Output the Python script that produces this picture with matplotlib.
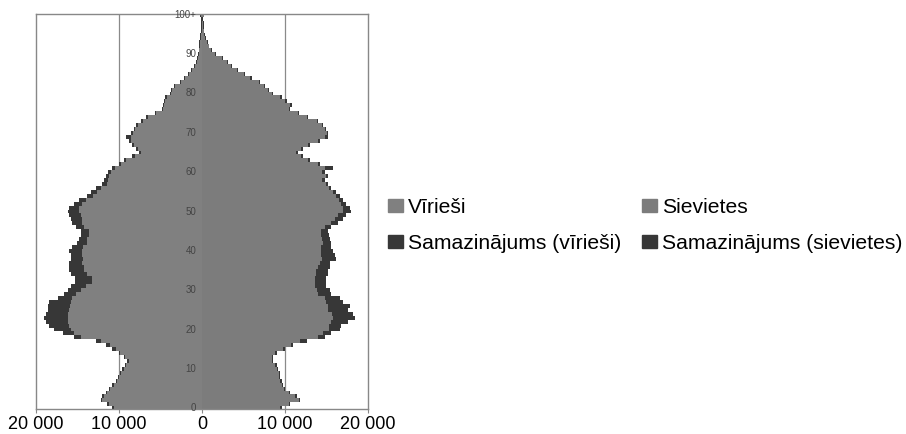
import matplotlib.pyplot as plt
from matplotlib.patches import Patch
import numpy as np

plt.rcParams['font.family'] = ['Liberation Sans', 'DejaVu Sans']

ages = list(range(101))
age_labels = ['0', '10', '20', '30', '40', '50', '60', '70', '80', '90', '100+']

# outer edge (population + decrease)
men_total = [10800, 11400, 12200, 12000, 11600, 11200, 10800, 10400, 10100, 9900,
             9600, 9300, 9000, 9400, 10000, 10800, 11600, 12800, 15400, 16800,
             17800, 18400, 18800, 19000, 18800, 18600, 18500, 18400, 17400, 16600,
             16200, 15800, 15300, 15300, 15800, 16000, 16000, 16000, 15800, 15800,
             16000, 15600, 15000, 14800, 14600, 14600, 15200, 15600, 15800, 16000,
             16200, 16000, 15400, 14800, 13800, 13400, 12800, 12000, 11800, 11600,
             11300, 10800, 10000, 9400, 8400, 7600, 8000, 8400, 8800, 9200,
             8500, 8200, 7900, 7300, 6700, 5700, 4800, 4700, 4600, 4400,
             3900, 3700, 3400, 2700, 2200, 1700, 1300, 900, 700, 600,
             500, 400, 350, 300, 250, 200, 150, 120, 100, 100,
             250]
men_decrease = [150] * 15 + [
    400, 500, 600, 800, 1400,
    2000, 2400, 2600, 2800, 2700, 2600, 2600, 2600, 1700, 1400,
    1600, 1800, 2000, 2000, 1900, 1800, 1800, 1600, 1500, 1400,
    1500, 1300, 1200, 1000, 1000, 1000, 1000, 1200, 1300, 1400,
    1400, 1200, 1000, 800, 700, 700, 600, 500, 500, 400,
    400, 350, 300, 300, 300, 250, 250, 250, 250, 700,
    150, 150, 150, 150, 150, 150, 150, 150, 150, 150,
    150, 150, 150, 150, 150, 100, 100, 100, 100, 100,
    100, 100, 100, 100, 100, 100, 100, 100, 100, 100,
    100]

women_total = [9600, 10600, 11800, 11400, 10600, 10000, 9800, 9600, 9400, 9400,
               9200, 9000, 8600, 8600, 9000, 10000, 11000, 12600, 14800, 15600,
               16600, 16800, 17600, 18400, 18200, 17600, 17800, 17000, 16600, 15600,
               15400, 15000, 15000, 15000, 15200, 15200, 15400, 15400, 16200, 16000,
               15800, 15600, 15600, 15400, 15300, 15200, 15600, 16400, 17000, 17400,
               18000, 17800, 17400, 17000, 16600, 16200, 15600, 15200, 14800, 15200,
               14800, 15800, 14200, 13000, 12200, 11600, 12200, 13000, 14200, 15200,
               15200, 15000, 14600, 14000, 12800, 11700, 10600, 10800, 10200, 9600,
               8600, 8100, 7600, 7000, 6000, 5200, 4300, 3600, 3100, 2500,
               1700, 1200, 900, 700, 500, 400, 300, 250, 200, 150,
               300]
women_decrease = [150] * 15 + [
    200, 300, 800, 800, 1000,
    1300, 1500, 2000, 2600, 2500, 2400, 2600, 2000, 1800, 1600,
    1500, 1400, 1400, 1400, 1400, 1400, 1400, 1200, 1700, 1600,
    1400, 1200, 1000, 900, 900, 800, 800, 800, 1000, 1000,
    1000, 800, 600, 500, 400, 400, 350, 300, 300, 300,
    300, 1000, 250, 250, 250, 250, 250, 250, 250, 400,
    150, 150, 150, 150, 150, 150, 150, 150, 150, 150,
    150, 150, 150, 150, 150, 100, 100, 100, 100, 100,
    100, 100, 100, 100, 100, 100, 100, 100, 100, 100,
    100]

x_ticks = [-20000, -10000, 0, 10000, 20000]
x_labels = ['20 000', '10 000', '0', '10 000', '20 000']

men_gray = np.array(men_total) - np.array(men_decrease)
women_gray = np.array(women_total) - np.array(women_decrease)

c_men = '#808080'
c_women = '#7c7c7c'
c_dark = '#373737'

fig = plt.figure(figsize=(9.06, 4.34), dpi=100)
ax = fig.add_axes([0.0397, 0.0576, 0.3664, 0.9101])

for xv in (-10000, 10000):
    ax.axvline(xv, color='#8a8a8a', lw=0.9, zorder=0)

ax.barh(ages, -men_gray, height=1.0, color=c_men, linewidth=0, zorder=2)
ax.barh(ages, -np.array(men_decrease), left=-men_gray, height=1.0,
        color=c_dark, linewidth=0, zorder=2)
ax.barh(ages, women_gray, height=1.0, color=c_women, linewidth=0, zorder=2)
ax.barh(ages, women_decrease, left=women_gray, height=1.0,
        color=c_dark, linewidth=0, zorder=2)

ax.set_xlim(-20000, 20000)
ax.set_ylim(-0.2, 100.2)
ax.set_xticks(x_ticks)
ax.set_xticklabels(x_labels, fontsize=13)
ax.set_yticks([])
ax.tick_params(axis='x', length=3, color='#888888', pad=2)

for sp in ax.spines.values():
    sp.set_color('#888888')
    sp.set_linewidth(1)

for i, lab in enumerate(age_labels):
    ax.text(-700, i * 10, lab, ha='right', va='center', fontsize=7,
            color='#444444', zorder=3)

handles = [Patch(color=c_men, label='Vīrieši'),
           Patch(color=c_dark, label='Samazinājums (vīrieši)'),
           Patch(color=c_women, label='Sievietes'),
           Patch(color=c_dark, label='Samazinājums (sievietes)')]
fig.legend(handles=handles, ncol=2, loc='center left',
           bbox_to_anchor=(0.407, 0.48), frameon=False, fontsize=15.2,
           handlelength=0.7, handleheight=0.55, handletextpad=0.25,
           columnspacing=1.0, labelspacing=0.8)

fig.savefig('out.png', dpi=100)
